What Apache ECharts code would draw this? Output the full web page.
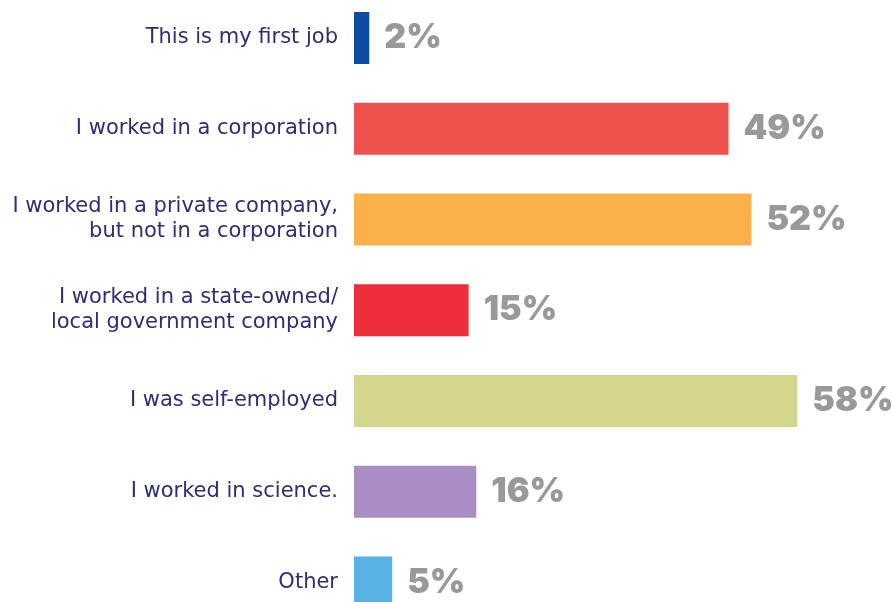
<!DOCTYPE html>
<html>
<head>
<meta charset="utf-8">
<script src="https://cdn.jsdelivr.net/npm/echarts@6/dist/echarts.min.js"></script>
<style>
  html, body { margin: 0; padding: 0; background: #ffffff; }
  #chart { width: 892px; height: 602px; }
</style>
</head>
<body>
<div id="chart"></div>
<script>
// Survey answers: previous employment before the current job
const categories = [
  'This is my first job',
  'I worked in a corporation',
  'I worked in a private company,\nbut not in a corporation',
  'I worked in a state-owned/\nlocal government company',
  'I was self-employed',
  'I worked in science.',
  'Other'
];
const shares = [2, 49, 52, 15, 58, 16, 5];
const barColors = ['#0d4da1', '#ef524c', '#fbb04c', '#ee2d3b', '#d4d68e', '#a88ec4', '#58b2e3'];

const chart = echarts.init(document.getElementById('chart'), null, { renderer: 'canvas' });

chart.setOption({
  backgroundColor: '#ffffff',
  animation: false,
  grid: {
    left: 354,
    top: -7.4,
    height: 635.25,
    right: 3,
    containLabel: false,
    outerBoundsMode: 'none'
  },
  xAxis: {
    type: 'value',
    min: 0,
    max: 70,
    show: false
  },
  yAxis: {
    type: 'category',
    data: categories,
    inverse: true,
    axisLine: { show: false },
    axisTick: { show: false },
    splitLine: { show: false },
    axisLabel: {
      margin: 16,
      color: '#2f2d73',
      fontFamily: 'DejaVu Sans',
      fontSize: 21,
      lineHeight: 25,
      align: 'right'
    }
  },
  series: [{
    type: 'bar',
    barWidth: 52,
    data: shares.map((v, i) => ({ value: v, itemStyle: { color: barColors[i] } })),
    label: {
      show: true,
      position: 'right',
      distance: 15,
      formatter: '{c}%',
      color: '#98999d',
      fontFamily: 'Inter',
      fontWeight: 900,
      fontSize: 34
    }
  }]
});
</script>
</body>
</html>
